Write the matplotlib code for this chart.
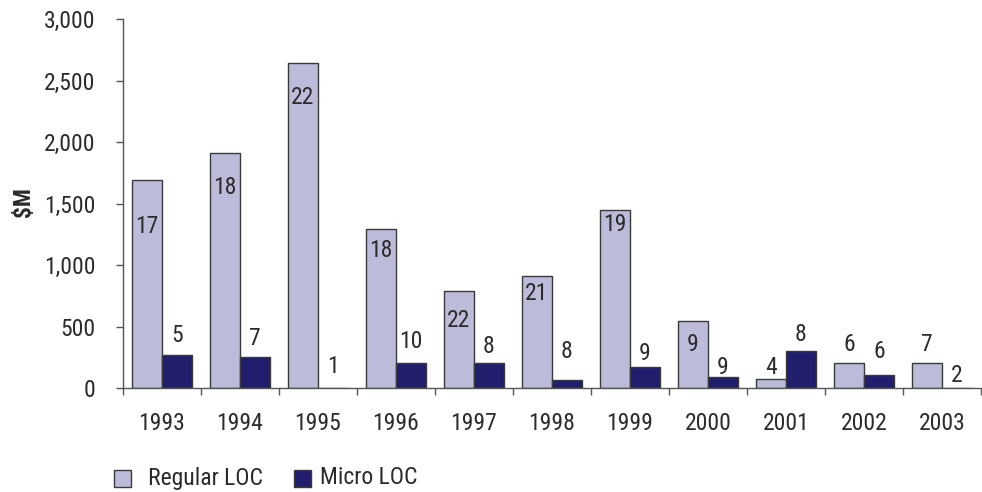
import matplotlib
matplotlib.use("Agg")
import matplotlib.pyplot as plt
import numpy as np
from matplotlib.patches import Rectangle

years = ["1993", "1994", "1995", "1996", "1997", "1998", "1999", "2000", "2001", "2002", "2003"]
regular_loc = [1692, 1911, 2643, 1294, 788, 915, 1451, 550, 76, 203, 203]
micro_loc = [268, 252, 0, 203, 203, 65, 171, 92, 300, 108, 0]
regular_counts = [17, 18, 22, 18, 22, 21, 19, 9, 4, 6, 7]
micro_counts = [5, 7, 1, 10, 8, 8, 9, 9, 8, 6, 2]
# heights (in $M units) at which the count labels sit
regular_label_at = [1313, 1633, 2364, 1123, 547, 772, 1327, 357, 167, 357, 357]
micro_label_at = [425, 406, 175, 379, 338, 297, 279, 167, 439, 297, 108]

FONT = ["Roboto Condensed", "DejaVu Sans"]
plt.rcParams["font.family"] = FONT
TXT = "#2b2b2b"
REG_C = "#bdbbda"
MIC_C = "#221e6e"
EDGE = "#3a3a3a"
AXC = "#555555"

W, H = 982, 492
fig = plt.figure(figsize=(W / 100, H / 100), dpi=100)
ax = fig.add_axes([123 / W, 1 - 388.3 / H, (981 - 123) / W, (388.3 - 19) / H])

x = np.arange(len(years))
w = 30 / 78
ax.bar(x - w / 2, regular_loc, width=w, color=REG_C, edgecolor=EDGE, linewidth=1.0, label="Regular LOC")
ax.bar(x + w / 2, micro_loc, width=w, color=MIC_C, edgecolor=EDGE, linewidth=1.0, label="Micro LOC")

for i in range(len(years)):
    ax.text(x[i] - w / 2, regular_label_at[i], str(regular_counts[i]), ha="center", va="center",
            fontsize=17, color=TXT)
    ax.text(x[i] + w / 2, micro_label_at[i], str(micro_counts[i]), ha="center", va="center",
            fontsize=17, color=TXT)

ax.set_xlim(-0.5, len(years) - 0.5)
ax.set_ylim(0, 3000)
ax.set_yticks(np.arange(0, 3001, 500))
ax.set_yticklabels([f"{v:,}" for v in range(0, 3001, 500)], fontsize=17, color=TXT)
ax.set_xticks(np.arange(-0.5, len(years), 1.0))
ax.set_xticklabels([])
ax.set_xticks(x, minor=True)
ax.set_xticklabels(years, minor=True, fontsize=17, color=TXT)
ax.tick_params(axis="x", which="minor", length=0, pad=17)
ax.tick_params(axis="x", which="major", length=5, color=AXC, width=1)
ax.tick_params(axis="y", length=5, color=AXC, width=1, pad=15)

for s in ["top", "right"]:
    ax.spines[s].set_visible(False)
for s in ["left", "bottom"]:
    ax.spines[s].set_color(AXC)
    ax.spines[s].set_linewidth(1)

fig.text(23 / W, 1 - 202 / H, "$M", rotation=90, ha="center", va="center", fontsize=17,
         fontweight="bold", color=TXT)

# legend
legend_items = [("Regular LOC", REG_C, 114, 148), ("Micro LOC", MIC_C, 294, 320)]
for label, col, px, tx in legend_items:
    fig.add_artist(Rectangle((px / W, 1 - 486.5 / H), 17 / W, 17 / H, transform=fig.transFigure,
                             facecolor=col, edgecolor=EDGE, linewidth=1.0))
    fig.text(tx / W, 1 - 478 / H, label, ha="left", va="center", fontsize=17, color=TXT)

fig.savefig("out.png", dpi=100)
